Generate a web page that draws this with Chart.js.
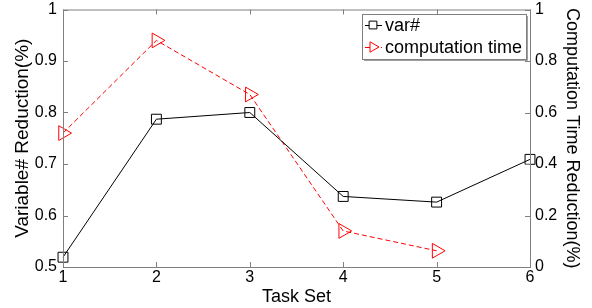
<!DOCTYPE html>
<html>
<head>
<meta charset="utf-8">
<script src="https://cdn.jsdelivr.net/npm/chart.js@4.4.1/dist/chart.umd.min.js"></script>
<style>
  html,body{margin:0;padding:0;background:#fff;}
  #c{display:block;}
</style>
</head>
<body>
<canvas id="c" width="592" height="308"></canvas>
<script>
// data
const taskSets = ['1','2','3','4','5','6'];
const varReduction = [0.519, 0.787, 0.800, 0.637, 0.626, 0.709];
const timeReduction = [0.52, 0.88, 0.67, 0.14, 0.063, null];
const seriesNames = ['var#', 'computation time'];

const FONT = 'Liberation Sans, Arial, sans-serif';
const AXIS_GRAY = '#808080';
const fmt = v => String(+(+v).toFixed(1));

// MATLAB style box + inward tick marks
const boxTicks = {
  id: 'boxTicks',
  afterDatasetsDraw(chart){
    const {ctx, chartArea:a, scales} = chart;
    ctx.save();
    ctx.strokeStyle = AXIS_GRAY;
    ctx.lineWidth = 1;
    ctx.strokeRect(a.left + .5, a.top + .5, a.right - a.left, a.bottom - a.top);
    const L = 5;
    ctx.beginPath();
    scales.x.ticks.forEach((t, i) => {
      const px = Math.round(scales.x.getPixelForTick(i)) + .5;
      ctx.moveTo(px, a.bottom); ctx.lineTo(px, a.bottom - L);
      ctx.moveTo(px, a.top); ctx.lineTo(px, a.top + L);
    });
    scales.y.ticks.forEach(t => {
      const py = Math.round(scales.y.getPixelForValue(t.value)) + .5;
      ctx.moveTo(a.left, py); ctx.lineTo(a.left + L, py);
    });
    scales.y2.ticks.forEach(t => {
      const py = Math.round(scales.y2.getPixelForValue(t.value)) + .5;
      ctx.moveTo(a.right, py); ctx.lineTo(a.right - L, py);
    });
    ctx.stroke();
    ctx.restore();
  }
};

// legend box in the top-right corner
const boxLegend = {
  id: 'boxLegend',
  afterDraw(chart){
    const {ctx} = chart;
    const x0 = 362, y0 = 14, w = 164, h = 45;
    ctx.save();
    ctx.fillStyle = '#fff';
    ctx.fillRect(x0, y0, w, h);
    ctx.strokeStyle = '#a0a0a0';
    ctx.lineWidth = 1;
    ctx.beginPath();
    ctx.moveTo(x0 + w + 1.5, y0 + 2); ctx.lineTo(x0 + w + 1.5, y0 + h + 1.5); ctx.lineTo(x0 + 2, y0 + h + 1.5);
    ctx.stroke();
    ctx.strokeStyle = AXIS_GRAY;
    ctx.strokeRect(x0 + .5, y0 + .5, w, h);
    ctx.font = '18px ' + FONT;
    ctx.textBaseline = 'middle';
    chart.data.datasets.forEach((ds, i) => {
      const cy = y0 + 11 + i * 22;
      ctx.strokeStyle = ds.borderColor;
      ctx.setLineDash(ds.borderDash || []);
      ctx.beginPath();
      ctx.moveTo(x0 + 3, cy + .5); ctx.lineTo(x0 + 20, cy + .5);
      ctx.stroke();
      ctx.setLineDash([]);
      ctx.fillStyle = '#fff';
      Chart.helpers.drawPoint(ctx, {
        pointStyle: ds.pointStyle, rotation: ds.pointRotation || 0,
        radius: ds.pointStyle === 'rect' ? 5.5 : 6, borderWidth: 1
      }, x0 + 11, cy);
      ctx.fillStyle = '#000';
      ctx.fillText(ds.label, x0 + 23, cy + 1);
    });
    ctx.restore();
  }
};

const fitY = w => s => { s.width = w; s.paddingTop = 9; s.paddingBottom = 0; };

new Chart(document.getElementById('c'), {
  type: 'line',
  data: {
    labels: taskSets,
    datasets: [{
      label: seriesNames[0],
      data: varReduction,
      yAxisID: 'y',
      borderColor: '#000',
      borderWidth: 1,
      pointStyle: 'rect',
      pointRadius: 7,
      pointBorderColor: '#000',
      pointBackgroundColor: 'rgba(0,0,0,0)',
      pointBorderWidth: 1,
      tension: 0
    }, {
      label: seriesNames[1],
      data: timeReduction,
      yAxisID: 'y2',
      borderColor: '#ff0000',
      borderWidth: 1,
      borderDash: [5, 3],
      pointStyle: 'triangle',
      pointRotation: 90,
      pointRadius: 8.5,
      pointBorderColor: '#ff0000',
      pointBackgroundColor: 'rgba(0,0,0,0)',
      pointBorderWidth: 1,
      tension: 0
    }]
  },
  options: {
    responsive: false,
    animation: false,
    layout: { padding: 0 },
    plugins: { legend: { display: false }, tooltip: { enabled: false } },
    scales: {
      x: {
        offset: false,
        grid: { display: false, drawTicks: false },
        border: { display: false },
        ticks: { color: '#000', font: { family: FONT, size: 16 }, padding: 1, maxRotation: 0 },
        title: { display: true, text: 'Task Set', color: '#000', font: { family: FONT, size: 18 }, padding: { top: 0, bottom: 0 } },
        afterFit: s => { s.height = 41; }
      },
      y: {
        position: 'left',
        min: 0.5, max: 1,
        grid: { display: false, drawTicks: false },
        border: { display: false },
        ticks: { stepSize: 0.1, color: '#000', font: { family: FONT, size: 16 }, padding: 6, callback: fmt },
        title: { display: true, text: 'Variable# Reduction(%)', color: '#000', font: { family: FONT, size: 19 }, padding: { top: 11, bottom: 0 } },
        afterFit: fitY(63)
      },
      y2: {
        position: 'right',
        min: 0, max: 1,
        grid: { display: false, drawTicks: false },
        border: { display: false },
        ticks: { stepSize: 0.2, color: '#000', font: { family: FONT, size: 16 }, padding: 5, callback: fmt },
        title: { display: true, text: 'Computation Time Reduction(%)', color: '#000', font: { family: FONT, size: 18 }, padding: { top: 9, bottom: 0 } },
        afterFit: fitY(62)
      }
    }
  },
  plugins: [boxTicks, boxLegend]
});
</script>
</body>
</html>
